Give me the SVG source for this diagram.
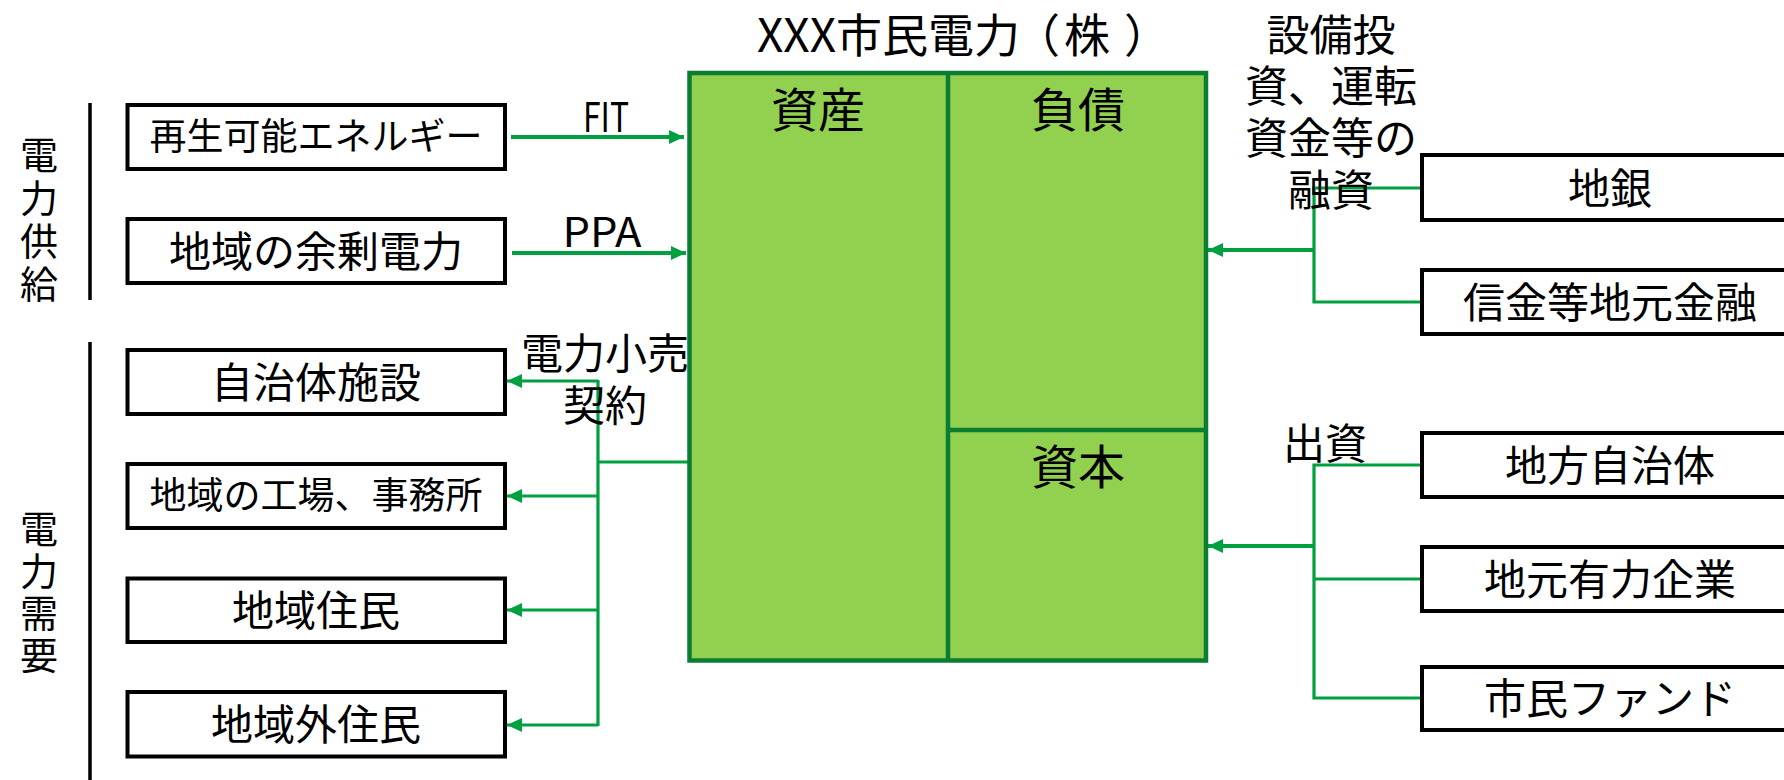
<svg xmlns="http://www.w3.org/2000/svg" width="1784" height="780" viewBox="0 0 1784 780">
<defs>
<style>
text{font-family:"Noto Sans CJK JP","Noto Sans",sans-serif;fill:#000;text-anchor:middle;dominant-baseline:central}
.lat{dominant-baseline:alphabetic}
.vt{writing-mode:vertical-rl}
.box{fill:#fff;stroke:#000;stroke-width:4}
.bs{fill:#92D050;stroke:#0B7D30;stroke-width:4.5}
.con{fill:none;stroke:#00A040;stroke-width:4}
.br{fill:none;stroke:#00A040;stroke-width:3.2}
.sep{fill:none;stroke:#000;stroke-width:3.5}
</style>
<marker id="ah" viewBox="0 0 15 14" refX="15" refY="7" markerWidth="15" markerHeight="14" markerUnits="userSpaceOnUse" orient="auto">
<path d="M0,0 L15,7 L0,14 z" fill="#00A040"/>
</marker>
</defs>
<rect width="1784" height="780" fill="#fff"/>

<g id="group-labels">
<path class="sep" d="M90,103 V300 M90,342 V780"/>
<text class="vt" font-size="38" letter-spacing="5" x="39" y="222">電力供給</text>
<text class="vt" font-size="38" letter-spacing="4" x="39" y="594">電力需要</text>
</g>

<g id="connectors">
<path class="con" marker-end="url(#ah)" d="M511,137 H684"/>
<path class="con" marker-end="url(#ah)" d="M512,253 H686"/>
<path class="br" d="M690,462 H598 M598,380 V726"/>
<path class="br" marker-end="url(#ah)" d="M598,381 H507"/>
<path class="br" marker-end="url(#ah)" d="M598,496 H507"/>
<path class="br" marker-end="url(#ah)" d="M598,610 H507"/>
<path class="br" marker-end="url(#ah)" d="M598,725 H507"/>
<path class="br" d="M1422,188 H1314 V302 H1422"/>
<path class="con" marker-end="url(#ah)" d="M1314,250 H1208"/>
<path class="br" d="M1422,465 H1314 V698 H1422 M1314,579 H1422"/>
<path class="con" marker-end="url(#ah)" d="M1314,546 H1208"/>
<text class="lat" font-size="41" x="606" y="132" textLength="46" lengthAdjust="spacingAndGlyphs">FIT</text>
<text class="lat" font-size="41" x="602" y="247" textLength="79" lengthAdjust="spacingAndGlyphs">PPA</text>
<text font-size="42"><tspan x="605" y="350">電力小売</tspan><tspan x="605" y="402">契約</tspan></text>
<text font-size="43"><tspan x="1331" y="32">設備投</tspan><tspan x="1331" y="83">資、運転</tspan><tspan x="1331" y="135">資金等の</tspan><tspan x="1331" y="187">融資</tspan></text>
<text font-size="42" x="1325" y="440">出資</text>
</g>

<g id="company">
<text font-size="46" y="32" style="text-anchor:start"><tspan x="757">XXX市民電力</tspan><tspan x="1014">（</tspan><tspan x="1064">株</tspan><tspan x="1124">）</tspan></text>
<rect class="bs" x="689.5" y="73" width="516.5" height="587.5"/>
<path class="bs" d="M948,73 V660.5 M948,430 H1206"/>
<text font-size="47" x="818" y="106">資産</text>
<text font-size="47" x="1078" y="106">負債</text>
<text font-size="47" x="1078" y="463">資本</text>
</g>

<g id="n-saiene"><rect class="box" x="127.5" y="105" width="377.5" height="64"/><text font-size="37" x="316" y="134">再生可能エネルギー</text></g>
<g id="n-yojo"><rect class="box" x="127.5" y="219" width="377.5" height="64"/><text font-size="42" x="316" y="248">地域の余剰電力</text></g>
<g id="n-jichitai"><rect class="box" x="127.5" y="350" width="377.5" height="64"/><text font-size="42" x="316" y="379">自治体施設</text></g>
<g id="n-kojo"><rect class="box" x="127.5" y="464" width="377.5" height="64"/><text font-size="37" x="316" y="493">地域の工場、事務所</text></g>
<g id="n-jumin"><rect class="box" x="127.5" y="578.5" width="377.5" height="63.5"/><text font-size="42" x="316" y="607">地域住民</text></g>
<g id="n-gaijumin"><rect class="box" x="127.5" y="692" width="377.5" height="64.5"/><text font-size="42" x="316" y="721">地域外住民</text></g>

<g id="n-chigin"><rect class="box" x="1422" y="155" width="400" height="65"/><text font-size="42" x="1610" y="185">地銀</text></g>
<g id="n-shinkin"><rect class="box" x="1422" y="270" width="400" height="64"/><text font-size="42" x="1610" y="299">信金等地元金融</text></g>
<g id="n-chiho"><rect class="box" x="1422" y="433" width="400" height="64"/><text font-size="42" x="1610" y="462">地方自治体</text></g>
<g id="n-kigyo"><rect class="box" x="1422" y="547" width="400" height="64"/><text font-size="42" x="1610" y="576">地元有力企業</text></g>
<g id="n-fund"><rect class="box" x="1422" y="667" width="400" height="63"/><text font-size="42" x="1610" y="695">市民ファンド</text></g>
</svg>
